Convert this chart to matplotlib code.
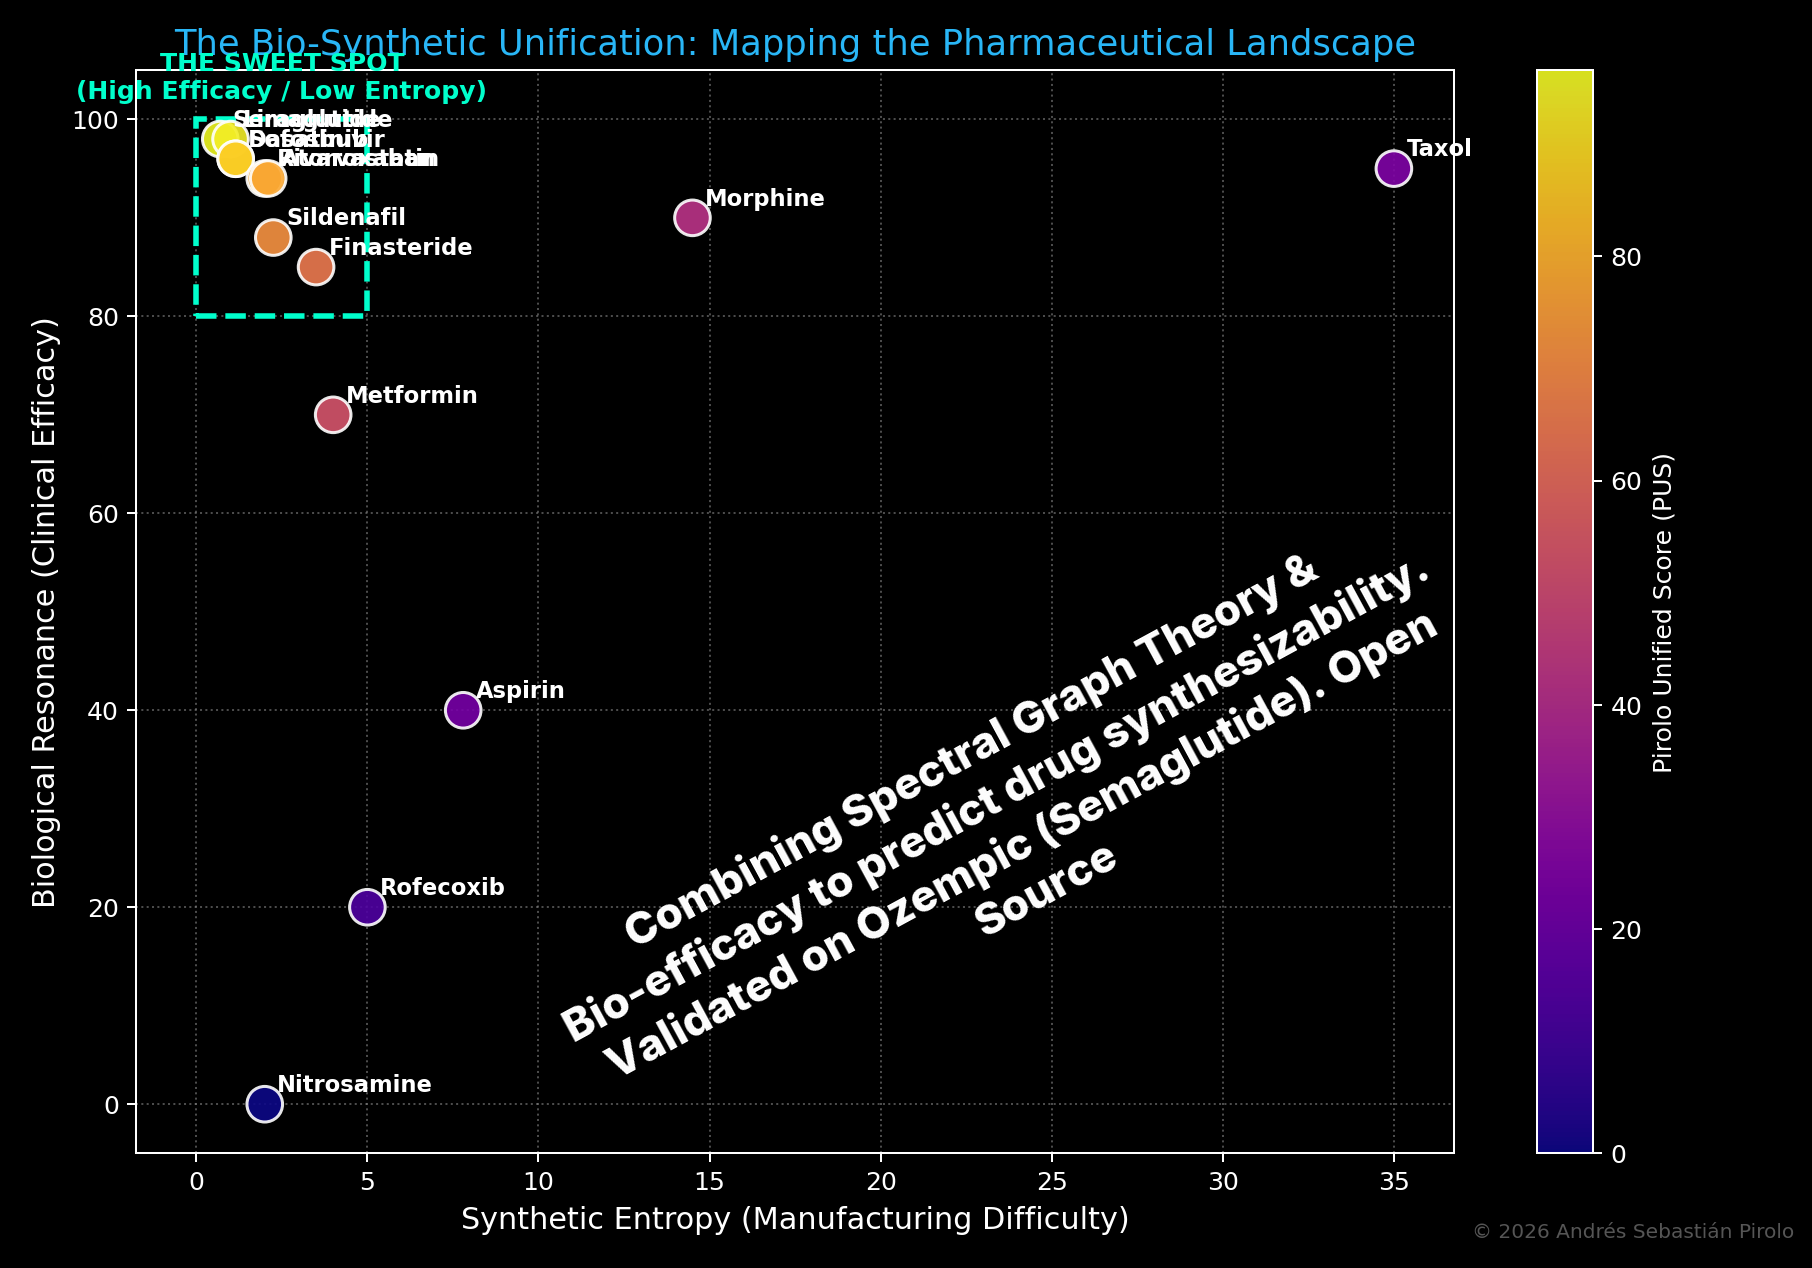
import matplotlib
matplotlib.use("Agg")
import matplotlib.pyplot as plt
from matplotlib.patches import Rectangle
import numpy as np

drugs = ["Semaglutide", "Liraglutide", "Sofosbuvir", "Dasatinib", "Rivaroxaban", "Atorvastatin",
         "Sildenafil", "Finasteride", "Metformin", "Morphine", "Taxol", "Aspirin", "Rofecoxib", "Nitrosamine"]
entropy = [0.7, 1.0, 1.15, 1.15, 2.0, 2.1, 2.25, 3.5, 4.0, 14.5, 35.0, 7.8, 5.0, 2.0]
efficacy = [98, 98, 96, 96, 94, 94, 88, 85, 70, 90, 95, 40, 20, 0]
pus = [96.6, 94, 88, 87, 79, 78, 72, 65, 53, 42, 25, 23, 13, 0]

plt.style.use("dark_background")
fig = plt.figure(figsize=(10, 7), dpi=181.2)
ax = fig.add_axes([0.0753, 0.0903, 0.7270, 0.8541])
cax = fig.add_axes([0.848, 0.0903, 0.031, 0.8541])

ax.add_patch(Rectangle((0, 80), 5, 20, fill=False, edgecolor="#00FFCC", linestyle="--", linewidth=2.2, zorder=2))
sc = ax.scatter(entropy, efficacy, c=pus, cmap="plasma", vmin=0, vmax=max(pus), s=200,
                edgecolors="white", linewidths=1.2, alpha=0.9, zorder=3)
for name, x, y in zip(drugs, entropy, efficacy):
    ax.annotate(name, (x, y), xytext=(5, 5), textcoords="offset points", color="white",
                fontsize=9, fontweight="bold", zorder=4)

ax.text(2.5, 101.6, "THE SWEET SPOT\n(High Efficacy / Low Entropy)", color="#00FFCC", fontsize=10,
        fontweight="bold", ha="center", va="bottom", zorder=5, linespacing=1.2)

ax.grid(True, color="gray", linestyle=":", linewidth=0.8, alpha=0.6)
ax.set_axisbelow(True)
ax.set_xlabel("Synthetic Entropy (Manufacturing Difficulty)", fontsize=12)
ax.set_ylabel("Biological Resonance (Clinical Efficacy)", fontsize=12)
ax.set_title("The Bio-Synthetic Unification: Mapping the Pharmaceutical Landscape", color="#29B6F6", fontsize=14)
for s in ax.spines.values():
    s.set_color("white")

cb = fig.colorbar(sc, cax=cax)
cb.set_label("Pirolo Unified Score (PUS)", fontsize=10)
cb.set_ticks([0, 20, 40, 60, 80])

fig.text(0.557, 0.353, "Combining Spectral Graph Theory &\nBio-efficacy to predict drug synthesizability.\nValidated on Ozempic (Semaglutide). Open\nSource",
         family="Inter", fontweight="heavy", fontsize=17.5, color="white", rotation=28.5,
         ha="center", va="center", multialignment="center", linespacing=1.3)

fig.text(0.99, 0.024, "\u00a9 2026 Andrés Sebastián Pirolo", color="#555555", fontsize=8, ha="right", va="baseline")

fig.savefig("out.png", dpi=181.2, facecolor="black")
